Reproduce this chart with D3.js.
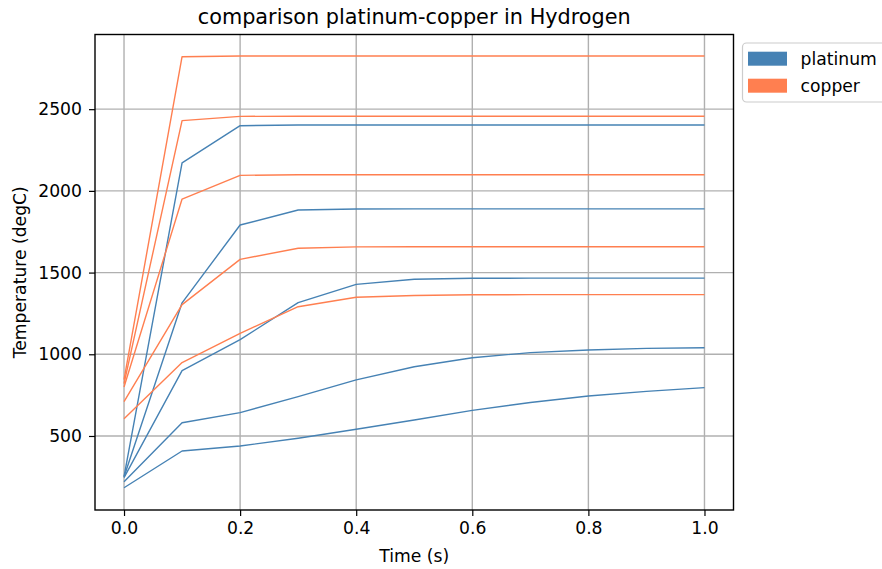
<!DOCTYPE html>
<html>
<head>
<meta charset="utf-8">
<script src="https://cdn.jsdelivr.net/npm/d3@7"></script>
<style>
  body { margin: 0; background: #fff; }
  text { font-family: "DejaVu Sans", sans-serif; fill: #000; }
</style>
</head>
<body>
<svg id="chart" width="882" height="569"></svg>
<script>
// Sample times (s)
const times = [0, 0.1, 0.2, 0.3, 0.4, 0.5, 0.6, 0.7, 0.8, 0.9, 1.0];

// Temperature runs (degC), one array per run
const platinum = [
  [252, 2171, 2399, 2403, 2403, 2403, 2403, 2403, 2403, 2403, 2403],
  [250, 1315, 1791, 1883, 1889, 1890, 1890, 1890, 1890, 1890, 1890],
  [245, 900, 1090, 1316, 1428, 1459, 1465, 1466, 1466, 1466, 1466],
  [220, 581, 643, 741, 843, 924, 979, 1010, 1026, 1036, 1040],
  [183, 408, 439, 486, 541, 598, 657, 705, 745, 773, 796]
];
const copper = [
  [845, 2821, 2825, 2825, 2825, 2825, 2825, 2825, 2825, 2825, 2825],
  [820, 2430, 2456, 2457, 2457, 2457, 2457, 2457, 2457, 2457, 2457],
  [800, 1950, 2095, 2099, 2099, 2099, 2099, 2099, 2099, 2099, 2099],
  [710, 1304, 1581, 1649, 1657, 1658, 1658, 1658, 1658, 1658, 1658],
  [605, 949, 1128, 1291, 1349, 1360, 1364, 1365, 1365, 1365, 1365]
];

const xTicks = [0, 0.2, 0.4, 0.6, 0.8, 1.0];
const yTicks = [500, 1000, 1500, 2000, 2500];
const seriesNames = ["platinum", "copper"];
const seriesColors = ["#4682B4", "#FF7F50"];

const svg = d3.select("#chart");
const plot = { left: 95, right: 733.5, top: 34.5, bottom: 510 };

const x = d3.scaleLinear().domain([-0.05, 1.05]).range([plot.left, plot.right]);
const y = d3.scaleLinear().domain([47, 2957]).range([plot.bottom, plot.top]);

// grid
const grid = svg.append("g");
grid.selectAll("line.gx").data(xTicks).join("line")
  .attr("x1", d => x(d)).attr("x2", d => x(d))
  .attr("y1", plot.top).attr("y2", plot.bottom)
  .attr("stroke", "#b0b0b0").attr("stroke-width", 1.4);
grid.selectAll("line.gy").data(yTicks).join("line")
  .attr("y1", d => y(d)).attr("y2", d => y(d))
  .attr("x1", plot.left).attr("x2", plot.right)
  .attr("stroke", "#b0b0b0").attr("stroke-width", 1.4);

// lines
const line = d3.line().x((d, i) => x(times[i])).y(d => y(d));
const lines = svg.append("g").attr("fill", "none").attr("stroke-width", 1.4)
  .attr("stroke-linejoin", "round");
platinum.forEach(s => lines.append("path").attr("d", line(s)).attr("stroke", seriesColors[0]));
copper.forEach(s => lines.append("path").attr("d", line(s)).attr("stroke", seriesColors[1]));

// axes
const xAxis = svg.append("g").attr("transform", `translate(0,${plot.bottom})`)
  .call(d3.axisBottom(x).tickValues(xTicks).tickFormat(d3.format(".1f")).tickSize(6).tickPadding(6));
const yAxis = svg.append("g").attr("transform", `translate(${plot.left},0)`)
  .call(d3.axisLeft(y).tickValues(yTicks).tickFormat(d3.format("d")).tickSize(6).tickPadding(7));
[xAxis, yAxis].forEach(a => {
  a.select(".domain").remove();
  a.selectAll(".tick line").attr("stroke", "#000").attr("stroke-width", 1.2);
  a.selectAll(".tick text").attr("font-size", 17.2).attr("font-family", "DejaVu Sans");
});

// frame
svg.append("rect").attr("x", plot.left).attr("y", plot.top)
  .attr("width", plot.right - plot.left).attr("height", plot.bottom - plot.top)
  .attr("fill", "none").attr("stroke", "#000").attr("stroke-width", 1.4);

// labels
svg.append("text").attr("x", (plot.left + plot.right) / 2).attr("y", 24)
  .attr("text-anchor", "middle").attr("font-size", 20.8)
  .text("comparison platinum-copper in Hydrogen");
svg.append("text").attr("x", (plot.left + plot.right) / 2).attr("y", 562)
  .attr("text-anchor", "middle").attr("font-size", 17.2).text("Time (s)");
svg.append("text").attr("transform", `translate(26,${(plot.top + plot.bottom) / 2}) rotate(-90)`)
  .attr("text-anchor", "middle").attr("font-size", 17.2).text("Temperature (degC)");

// legend
const lg = svg.append("g");
lg.append("rect").attr("x", 742.5).attr("y", 43).attr("width", 150).attr("height", 59)
  .attr("rx", 4).attr("fill", "#fff").attr("fill-opacity", 0.8)
  .attr("stroke", "#cccccc").attr("stroke-width", 1.2);
seriesNames.forEach((name, i) => {
  const yy = 51.7 + i * 27;
  lg.append("rect").attr("x", 748).attr("y", yy).attr("width", 39).attr("height", 14)
    .attr("fill", seriesColors[i]);
  lg.append("text").attr("x", 800.5).attr("y", yy + 13).attr("font-size", 17.2).text(name);
});
</script>
</body>
</html>
